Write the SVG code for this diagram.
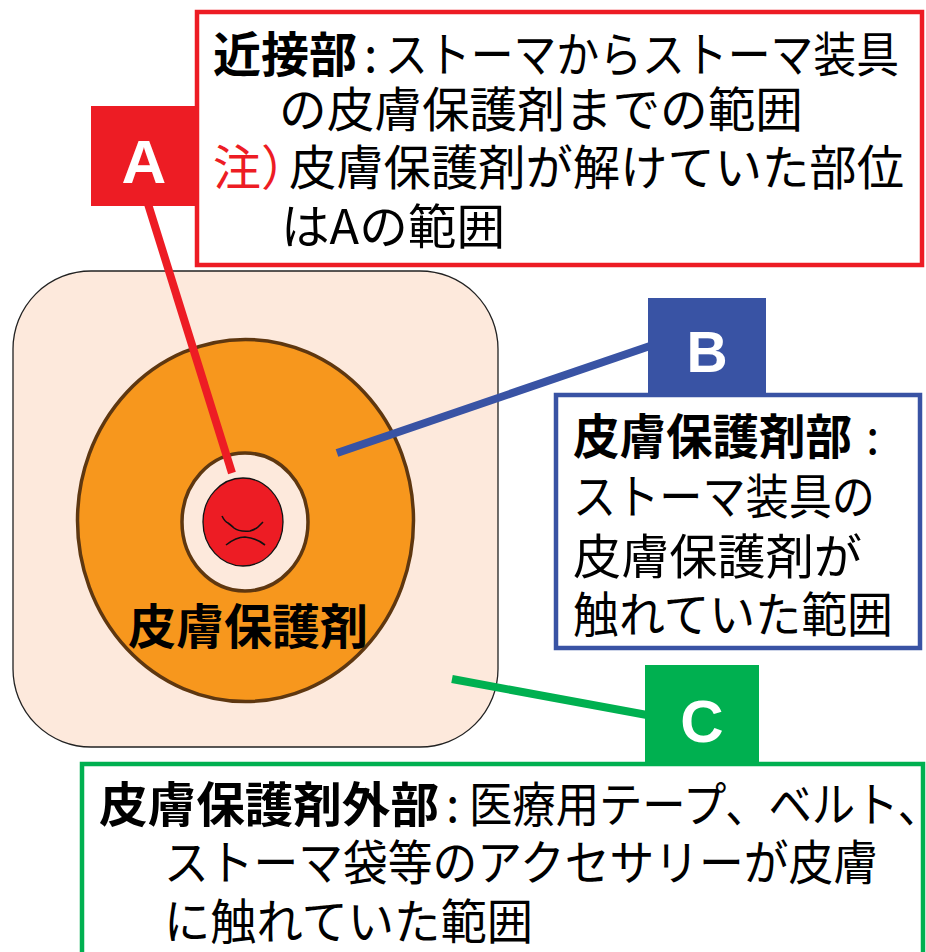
<svg xmlns="http://www.w3.org/2000/svg" width="926" height="952" viewBox="0 0 926 952">
  <style>
    .jp { font-family: "Noto Sans CJK JP", "Noto Sans CJK SC", sans-serif; font-size: 48px; fill: #000; }
    .b { font-weight: bold; }
    .tag { font-family: "Liberation Sans", Arial, sans-serif; font-weight: bold; fill: #fff; text-anchor: middle; }
    .frame { fill: #fff; stroke-width: 4.5; }
    .lead { fill: none; stroke-width: 8; stroke-linecap: butt; }
  </style>
  <rect width="926" height="952" fill="#fff"/>

  <!-- ostomy appliance: skin plate, protective barrier, stoma -->
  <g id="appliance">
    <rect x="13" y="271" width="485" height="476" rx="78" ry="78" fill="#fde9dc" stroke="#222" stroke-width="1.3"/>
    <ellipse cx="245.5" cy="520.5" rx="168" ry="181" fill="#f7971d" stroke="#5e3710" stroke-width="3.5"/>
    <ellipse cx="245" cy="522" rx="63" ry="69" fill="#fde9dc" stroke="#5e3710" stroke-width="3.5"/>
    <ellipse cx="243" cy="522" rx="40" ry="44" fill="#ed1c24" stroke="#111" stroke-width="1.3"/>
    <path d="M222 516 Q225 522 228 523 Q232 526 234 528 Q239 532 250 531 Q256 529 258 527 Q261 524 263 522" fill="none" stroke="#111" stroke-width="1.6"/>
    <path d="M226 545 Q236 537 245 537 Q256 538 265 545" fill="none" stroke="#111" stroke-width="1.6"/>
    <text class="jp b" x="128" y="644" textLength="240" lengthAdjust="spacingAndGlyphs">皮膚保護剤</text>
  </g>

  <!-- leader lines -->
  <g id="connectors">
    <line class="lead" x1="148" y1="204" x2="232" y2="473" stroke="#ed1c24"/>
    <line class="lead" x1="337" y1="453" x2="650" y2="346" stroke="#3953a4"/>
    <line class="lead" x1="452" y1="679" x2="647" y2="715" stroke="#00b050"/>
  </g>

  <!-- A: proximal zone -->
  <g id="zone-a">
    <rect class="frame" x="197" y="12" width="725" height="253" stroke="#ed1c24"/>
    <rect x="91" y="106" width="105" height="100" fill="#ed1c24"/>
    <text class="tag" x="144" y="183" font-size="62">A</text>
    <text class="jp b" x="213" y="72" textLength="144" lengthAdjust="spacingAndGlyphs">近接部</text>
    <text class="jp" x="364" y="72">:</text>
    <text class="jp" x="385" y="72" textLength="514" lengthAdjust="spacingAndGlyphs">ストーマからストーマ装具</text>
    <text class="jp" x="279" y="127" textLength="524" lengthAdjust="spacingAndGlyphs">の皮膚保護剤までの範囲</text>
    <text class="jp" x="213" y="185" fill="#ed1c24" style="fill:#ed1c24">注）</text>
    <text class="jp" x="289" y="185" textLength="615" lengthAdjust="spacingAndGlyphs">皮膚保護剤が解けていた部位</text>
    <text class="jp" x="281" y="244" textLength="224" lengthAdjust="spacingAndGlyphs">はAの範囲</text>
  </g>

  <!-- B: barrier zone -->
  <g id="zone-b">
    <rect class="frame" x="556" y="395" width="364" height="253" stroke="#3953a4"/>
    <rect x="648" y="298" width="118" height="97" fill="#3953a4"/>
    <text class="tag" x="707" y="372" font-size="57">B</text>
    <text class="jp b" x="573" y="454" textLength="279" lengthAdjust="spacingAndGlyphs">皮膚保護剤部</text>
    <text class="jp" x="866" y="454">:</text>
    <text class="jp" x="573" y="514" textLength="302" lengthAdjust="spacingAndGlyphs">ストーマ装具の</text>
    <text class="jp" x="573" y="574" textLength="289" lengthAdjust="spacingAndGlyphs">皮膚保護剤が</text>
    <text class="jp" x="573" y="632" textLength="320" lengthAdjust="spacingAndGlyphs">触れていた範囲</text>
  </g>

  <!-- C: outer zone -->
  <g id="zone-c">
    <rect class="frame" x="82" y="764" width="841" height="200" stroke="#00b050"/>
    <rect x="645" y="665" width="114" height="99" fill="#00b050"/>
    <text class="tag" x="702" y="742" font-size="60">C</text>
    <text class="jp b" x="99" y="822" textLength="340" lengthAdjust="spacingAndGlyphs">皮膚保護剤外部</text>
    <text class="jp" x="446" y="822">:</text>
    <text class="jp" x="469" y="822" textLength="472" lengthAdjust="spacingAndGlyphs">医療用テープ、ベルト、</text>
    <text class="jp" x="164" y="880" textLength="714" lengthAdjust="spacingAndGlyphs">ストーマ袋等のアクセサリーが皮膚</text>
    <text class="jp" x="164" y="939" textLength="369" lengthAdjust="spacingAndGlyphs">に触れていた範囲</text>
  </g>
</svg>
